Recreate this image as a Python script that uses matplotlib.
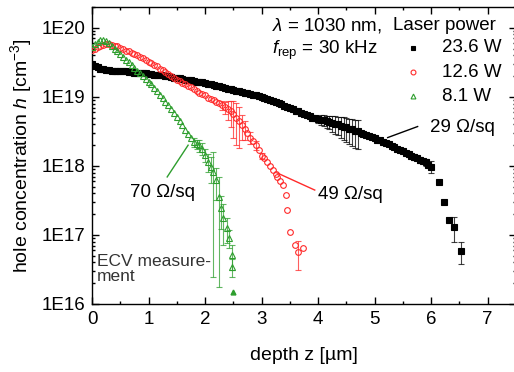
import numpy as np
import matplotlib
matplotlib.use("Agg")
import matplotlib.pyplot as plt
from matplotlib.ticker import FixedLocator, LogLocator, NullFormatter, MultipleLocator

plt.rcParams['font.family'] = ['Liberation Sans', 'DejaVu Sans']
plt.rcParams['mathtext.fontset'] = 'custom'
plt.rcParams['mathtext.rm'] = 'Liberation Sans'
plt.rcParams['mathtext.it'] = 'Liberation Sans:italic'

# depth z [um] and log10 of hole concentration h [cm^-3]
z_236 = [0.00, 0.05, 0.10, 0.15, 0.20, 0.25, 0.30, 0.35, 0.40, 0.45,
         0.50, 0.55, 0.60, 0.65, 0.70, 0.75, 0.80, 0.85, 0.90, 0.95,
         1.00, 1.05, 1.10, 1.15, 1.20, 1.25, 1.30, 1.35, 1.40, 1.45,
         1.50, 1.55, 1.60, 1.65, 1.70, 1.75, 1.80, 1.85, 1.90, 1.95,
         2.00, 2.05, 2.10, 2.15, 2.20, 2.25, 2.30, 2.35, 2.40, 2.45,
         2.50, 2.55, 2.60, 2.65, 2.70, 2.75, 2.80, 2.85, 2.90, 2.95,
         3.00, 3.05, 3.10, 3.15, 3.20, 3.25, 3.30, 3.35, 3.40, 3.45,
         3.50, 3.55, 3.60, 3.65, 3.70, 3.75, 3.80, 3.85, 3.90, 3.95,
         4.00, 4.05, 4.10, 4.15, 4.20, 4.25, 4.30, 4.35, 4.40, 4.45,
         4.50, 4.55, 4.60, 4.65, 4.70, 4.75, 4.80, 4.85, 4.90, 4.95,
         5.00, 5.05, 5.10, 5.15, 5.20, 5.25, 5.30, 5.35, 5.40, 5.45,
         5.50, 5.55, 5.60, 5.65, 5.70, 5.75, 5.80, 5.85, 5.90, 5.95,
         6.00, 6.13, 6.22, 6.31, 6.40, 6.53]
lh_236 = [19.48, 19.45, 19.43, 19.41, 19.40, 19.39, 19.39, 19.38, 19.38, 19.38,
          19.38, 19.37, 19.37, 19.36, 19.36, 19.35, 19.35, 19.35, 19.34, 19.34,
          19.33, 19.33, 19.32, 19.32, 19.31, 19.31, 19.30, 19.30, 19.29, 19.28,
          19.27, 19.27, 19.26, 19.25, 19.25, 19.24, 19.23, 19.22, 19.22, 19.21,
          19.20, 19.19, 19.18, 19.17, 19.16, 19.15, 19.14, 19.13, 19.12, 19.11,
          19.10, 19.09, 19.08, 19.07, 19.06, 19.05, 19.04, 19.03, 19.02, 19.01,
          19.00, 18.98, 18.97, 18.95, 18.94, 18.92, 18.91, 18.89, 18.87, 18.86,
          18.84, 18.82, 18.80, 18.79, 18.77, 18.75, 18.73, 18.72, 18.70, 18.69,
          18.68, 18.67, 18.66, 18.65, 18.64, 18.62, 18.61, 18.60, 18.58, 18.57,
          18.56, 18.54, 18.53, 18.51, 18.50, 18.48, 18.46, 18.45, 18.43, 18.42,
          18.40, 18.38, 18.37, 18.35, 18.33, 18.31, 18.29, 18.27, 18.25, 18.23,
          18.21, 18.19, 18.17, 18.15, 18.13, 18.11, 18.09, 18.07, 18.05, 18.02,
          17.99, 17.77, 17.48, 17.22, 17.12, 16.77]
# relative error bars: depth -> fraction
eb_236 = {4.00: 0.12, 4.05: 0.15, 4.10: 0.18, 4.15: 0.2, 4.20: 0.22, 4.25: 0.25,
          4.30: 0.28, 4.35: 0.3, 4.40: 0.33, 4.45: 0.36, 4.50: 0.38, 4.55: 0.4,
          4.60: 0.42, 4.65: 0.44, 4.70: 0.45, 5.60: 0.08, 5.70: 0.1, 5.80: 0.1,
          5.90: 0.12, 6.00: 0.2, 6.40: 0.4, 6.53: 0.35}

z_126 = [0.00, 0.05, 0.10, 0.15, 0.20, 0.25, 0.30, 0.35, 0.40, 0.45,
         0.50, 0.55, 0.60, 0.65, 0.70, 0.75, 0.80, 0.85, 0.90, 0.95,
         1.00, 1.05, 1.10, 1.15, 1.20, 1.25, 1.30, 1.35, 1.40, 1.45,
         1.50, 1.55, 1.60, 1.65, 1.70, 1.75, 1.80, 1.85, 1.90, 1.95,
         2.00, 2.05, 2.10, 2.15, 2.20, 2.25, 2.30, 2.35, 2.40, 2.45,
         2.50, 2.55, 2.60, 2.65, 2.70, 2.75, 2.80, 2.85, 2.90, 2.95,
         3.00, 3.05, 3.10, 3.15, 3.20, 3.25, 3.28, 3.33, 3.37, 3.43,
         3.45, 3.50, 3.59, 3.64, 3.73]
lh_126 = [19.68, 19.70, 19.72, 19.73, 19.75, 19.76, 19.76, 19.75, 19.74, 19.73,
          19.71, 19.69, 19.67, 19.66, 19.64, 19.62, 19.60, 19.58, 19.56, 19.54,
          19.51, 19.49, 19.46, 19.44, 19.41, 19.39, 19.36, 19.33, 19.30, 19.28,
          19.25, 19.23, 19.20, 19.18, 19.16, 19.14, 19.11, 19.09, 19.06, 19.04,
          19.02, 18.99, 18.97, 18.95, 18.93, 18.91, 18.88, 18.85, 18.82, 18.79,
          18.75, 18.70, 18.65, 18.59, 18.53, 18.47, 18.41, 18.36, 18.30, 18.23,
          18.15, 18.11, 18.06, 18.00, 17.94, 17.88, 17.84, 17.78, 17.72, 17.58,
          17.36, 17.04, 16.85, 16.75, 16.81]
eb_126 = {2.30: 0.15, 2.35: 0.2, 2.40: 0.3, 2.45: 0.4, 2.50: 0.55, 2.55: 0.6,
          2.60: 0.6, 2.65: 0.4, 2.70: 0.3, 2.80: 0.2, 2.90: 0.15, 3.00: 0.1,
          3.64: 0.45}

z_81 = [0.00, 0.05, 0.10, 0.15, 0.20, 0.25, 0.30, 0.35, 0.40, 0.45,
        0.50, 0.55, 0.60, 0.65, 0.70, 0.75, 0.80, 0.85, 0.90, 0.95,
        1.00, 1.05, 1.10, 1.15, 1.20, 1.25, 1.30, 1.35, 1.40, 1.45,
        1.50, 1.55, 1.60, 1.65, 1.70, 1.75, 1.80, 1.85, 1.90, 1.95,
        2.00, 2.05, 2.10, 2.14, 2.20, 2.25, 2.29, 2.32, 2.38, 2.42,
        2.47, 2.48]
lh_81 = [19.72, 19.77, 19.80, 19.82, 19.83, 19.81, 19.78, 19.74, 19.70, 19.66,
         19.62, 19.58, 19.54, 19.50, 19.46, 19.42, 19.38, 19.34, 19.30, 19.26,
         19.22, 19.18, 19.13, 19.08, 19.03, 18.98, 18.93, 18.88, 18.82, 18.77,
         18.71, 18.65, 18.59, 18.52, 18.46, 18.40, 18.35, 18.32, 18.30, 18.25,
         18.16, 18.06, 17.98, 17.91, 17.80, 17.55, 17.39, 17.25, 17.10, 16.96,
         16.71, 16.54]
eb_81 = {1.80: 0.15, 1.85: 0.15, 1.90: 0.2, 1.95: 0.2, 2.00: 0.2, 2.05: 0.3,
         2.10: 0.4, 2.14: 0.97, 2.20: 0.5, 2.25: 0.95, 2.29: 0.5, 2.32: 0.6,
         2.38: 0.4, 2.42: 0.3, 2.47: 0.4, 2.48: 0.3}
z_81_last = [2.5]
lh_81_last = [16.17]

c_blk, c_red, c_grn = '#000000', '#ff2a2a', '#2e9e2e'
FS = 13.5

fig = plt.figure(figsize=(5.14, 3.72), dpi=100)
ax = fig.add_axes([92 / 514, 1 - 304 / 372, 424 / 514, 297 / 372])


def draw(z, lh, eb, color, marker, ms, fill):
    z = np.array(z)
    h = 10 ** np.array(lh)
    rel = np.array([eb.get(round(v, 2), 0.0) for v in z])
    m = rel > 0
    ax.errorbar(z[m], h[m], yerr=h[m] * rel[m], fmt='none', ecolor=color,
                elinewidth=0.8, capsize=2, capthick=0.8, alpha=0.75, zorder=2)
    ax.plot(z, h, ls='none', marker=marker, ms=ms, mec=color, mew=0.8,
            mfc=color if fill else 'none', zorder=3)


draw(z_236, lh_236, eb_236, c_blk, 's', 4.8, True)
draw(z_126, lh_126, eb_126, c_red, 'o', 4.1, False)
draw(z_81, lh_81, eb_81, c_grn, '^', 4.7, False)
ax.plot(z_81_last, 10 ** np.array(lh_81_last), ls='none', marker='^', ms=3.5,
        color=c_grn, zorder=3)

ax.set_yscale('log')
ax.set_xlim(0, 7.5)
ax.set_ylim(1e16, 2e20)
ax.xaxis.set_major_locator(MultipleLocator(1))
ax.xaxis.set_minor_locator(MultipleLocator(0.5))
ax.yaxis.set_major_locator(FixedLocator([1e16, 1e17, 1e18, 1e19, 1e20]))
ax.set_yticklabels(['1E16', '1E17', '1E18', '1E19', '1E20'])
ax.yaxis.set_minor_locator(LogLocator(base=10, subs=np.arange(2, 10), numticks=20))
ax.yaxis.set_minor_formatter(NullFormatter())
ax.tick_params(which='both', direction='in', top=True, right=True, labelsize=FS, width=1)
ax.tick_params(axis='y', pad=5)
ax.tick_params(axis='x', pad=5)
ax.tick_params(which='major', length=5)
ax.tick_params(which='minor', length=2.5)
for s in ax.spines.values():
    s.set_linewidth(1)

ax.set_xlabel('depth z [µm]', fontsize=14, labelpad=14)
ax.set_ylabel(r'hole concentration $h$ [cm$^{-3}$]', fontsize=14, labelpad=5)

# header text
ax.text(0.425, 0.939, r'$\lambda$ = 1030 nm,', transform=ax.transAxes, fontsize=FS, va='center')
ax.text(0.425, 0.855, r'$f_\mathrm{rep}$ = 30 kHz', transform=ax.transAxes, fontsize=FS, va='center')
ax.text(0.710, 0.939, 'Laser power', transform=ax.transAxes, fontsize=FS, va='center')

# legend entries
leg_labels = ['23.6 W', '12.6 W', '8.1 W']
leg_styles = [(c_blk, 's', True), (c_red, 'o', False), (c_grn, '^', False)]
for i, (lab, (c, mk, fill)) in enumerate(zip(leg_labels, leg_styles)):
    yy = 0.862 - i * 0.081
    ax.plot([0.757], [yy], transform=ax.transAxes, marker=mk, ms=3.5, mew=0.8,
            mec=c, mfc=c if fill else 'none', ls='none', clip_on=False)
    ax.text(0.825, yy, lab, transform=ax.transAxes, fontsize=FS, va='center')

# sheet resistance annotations
ax.plot([5.23, 5.76], [10 ** 18.41, 10 ** 18.57], color=c_blk, lw=1)
ax.text(5.97, 10 ** 18.55, '29 Ω/sq', fontsize=FS, va='center')
ax.plot([3.27, 3.94], [10 ** 17.90, 10 ** 17.65], color=c_red, lw=1)
ax.text(3.99, 10 ** 17.58, '49 Ω/sq', fontsize=FS, va='center')
ax.plot([1.33, 1.70], [10 ** 17.84, 10 ** 18.30], color=c_grn, lw=1)
ax.text(0.67, 10 ** 17.61, '70 Ω/sq', fontsize=FS, va='center')

ax.text(0.012, 0.118, 'ECV measure-\nment', transform=ax.transAxes, fontsize=12.5,
        va='center', color='#333333', linespacing=1.0)

fig.savefig('out.png', dpi=100)
